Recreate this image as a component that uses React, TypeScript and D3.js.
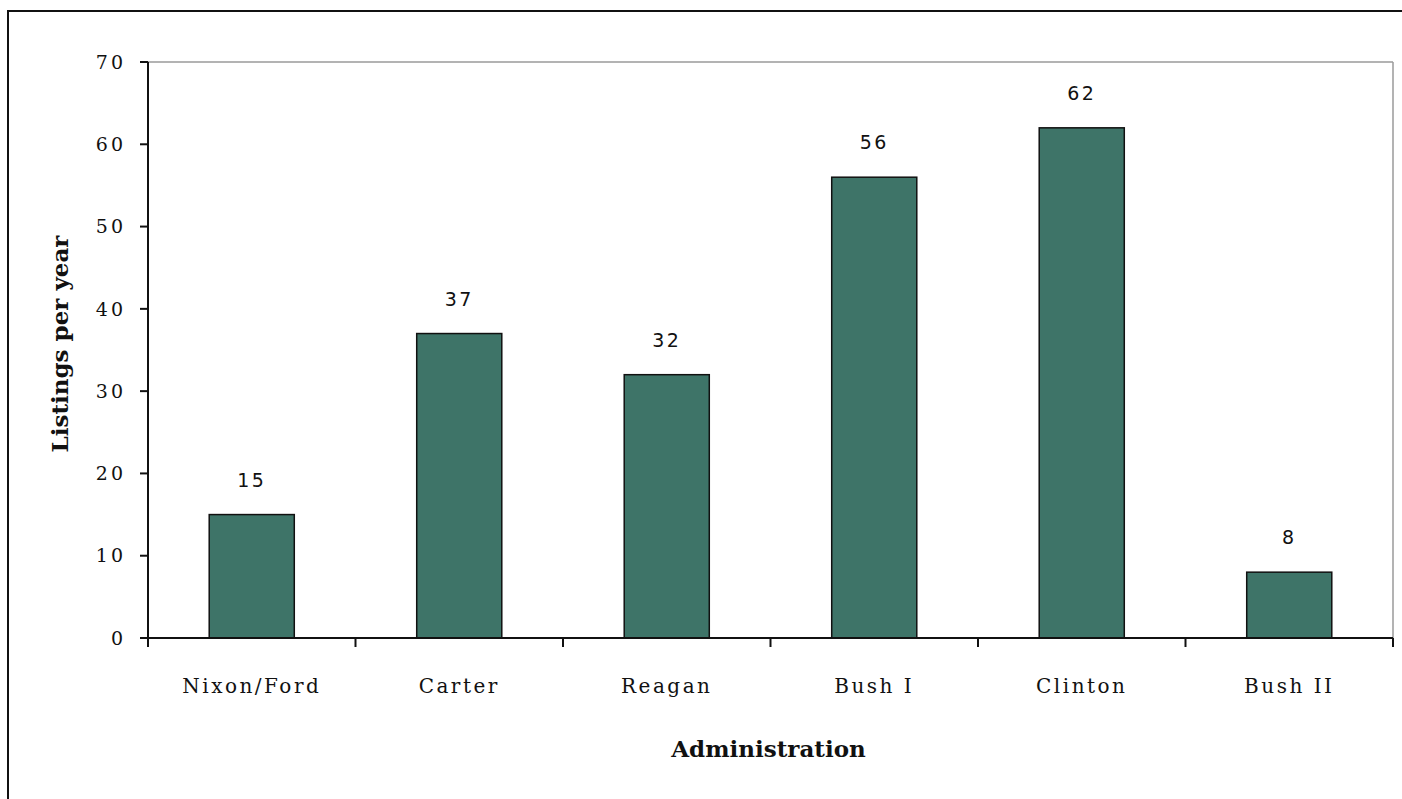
import React from "react";
import * as d3 from "d3";

const administrations = ["Nixon/Ford", "Carter", "Reagan", "Bush I", "Clinton", "Bush II"];
const listingsPerYear = [15, 37, 32, 56, 62, 8];
const yTicks = [0, 10, 20, 30, 40, 50, 60, 70];

const W = 1402;
const H = 799;
const plot = { left: 148, right: 1393, top: 62, bottom: 638 };
const barColor = "#3e7468";
const serif = "'DejaVu Serif', 'Liberation Serif', serif";
const sans = "'DejaVu Sans', Verdana, sans-serif";

export default function App() {
  const x = d3
    .scaleBand<string>()
    .domain(administrations)
    .range([plot.left, plot.right])
    .paddingInner(0)
    .paddingOuter(0);
  const y = d3.scaleLinear().domain([0, 70]).range([plot.bottom, plot.top]);
  const bw = x.bandwidth();
  const barW = bw * 0.41;
  const boundaries = administrations.map((_, i) => plot.left + bw * (i + 1));

  return (
    <svg
      width={W}
      height={H}
      style={{ position: "absolute", left: 0, top: 0, background: "#fff" }}
    >
      {/* outer chart frame */}
      <rect x={8} y={11} width={W + 10} height={H + 10} fill="#fff" stroke="#111" strokeWidth={2} />

      {/* plot frame: top and right in grey */}
      <line x1={plot.left} x2={plot.right} y1={plot.top} y2={plot.top} stroke="#9a9a9a" strokeWidth={1.5} />
      <line x1={plot.right} x2={plot.right} y1={plot.top} y2={plot.bottom} stroke="#9a9a9a" strokeWidth={1.5} />

      {/* bars */}
      {administrations.map((a, i) => {
        const cx = (x(a) as number) + bw / 2;
        const v = listingsPerYear[i];
        return (
          <g key={a}>
            <rect
              x={cx - barW / 2}
              y={y(v)}
              width={barW}
              height={plot.bottom - y(v)}
              fill={barColor}
              stroke="#111"
              strokeWidth={1.5}
            />
            <text
              x={cx}
              y={y(v) - 28}
              textAnchor="middle"
              fontFamily={sans}
              fontSize={19}
              letterSpacing={2.5}
              fill="#111"
            >
              {v}
            </text>
            <text
              x={cx}
              y={693}
              textAnchor="middle"
              fontFamily={serif}
              fontSize={20}
              letterSpacing={2.5}
              fill="#111"
            >
              {a}
            </text>
          </g>
        );
      })}

      {/* y axis */}
      <line x1={plot.left} x2={plot.left} y1={plot.top} y2={plot.bottom + 9} stroke="#111" strokeWidth={2} />
      {yTicks.map((t) => (
        <g key={t}>
          <line x1={plot.left - 8} x2={plot.left} y1={y(t)} y2={y(t)} stroke="#111" strokeWidth={2} />
          <text
            x={plot.left - 22}
            y={y(t)}
            dy="0.35em"
            textAnchor="end"
            fontFamily={serif}
            fontSize={19}
            letterSpacing={3}
            fill="#111"
          >
            {t}
          </text>
        </g>
      ))}

      {/* x axis */}
      <line x1={plot.left - 8} x2={plot.right} y1={plot.bottom} y2={plot.bottom} stroke="#111" strokeWidth={2} />
      {boundaries.map((bx, i) => (
        <line key={i} x1={bx} x2={bx} y1={plot.bottom} y2={plot.bottom + 9} stroke="#111" strokeWidth={2} />
      ))}

      {/* axis titles */}
      <text
        transform={`translate(68, ${(plot.top + plot.bottom) / 2 - 6}) rotate(-90)`}
        textAnchor="middle"
        fontFamily={serif}
        fontSize={23}
        fontWeight="bold"
        fill="#111"
      >
        Listings per year
      </text>
      <text
        x={(plot.left + plot.right) / 2 - 2}
        y={757}
        textAnchor="middle"
        fontFamily={serif}
        fontSize={23}
        fontWeight="bold"
        fill="#111"
      >
        Administration
      </text>
    </svg>
  );
}
